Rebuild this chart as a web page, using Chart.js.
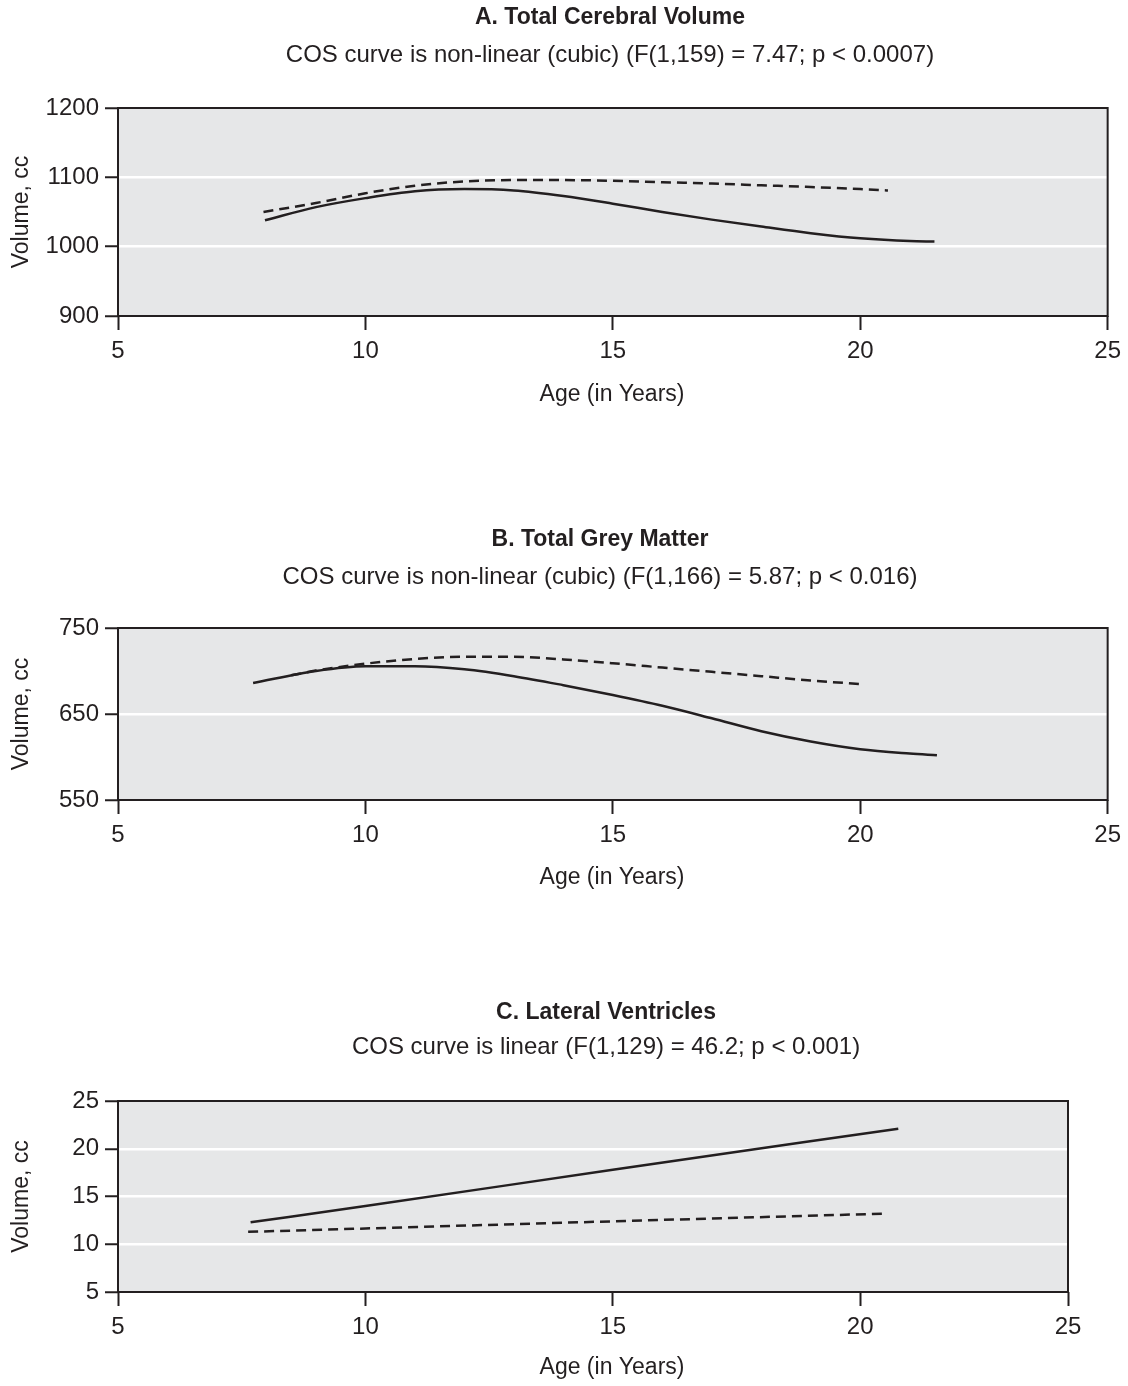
<!DOCTYPE html>
<html>
<head>
<meta charset="utf-8">
<title>COS vs controls - brain volumes</title>
<script src="https://cdn.jsdelivr.net/npm/chart.js@4.4.1/dist/chart.umd.min.js"></script>
<style>
  html, body { margin: 0; padding: 0; background: #fff; overflow: hidden; }
  canvas { position: absolute; left: 0; }
</style>
</head>
<body>
<canvas id="chartA" width="1128" height="420" style="top:0px"></canvas>
<canvas id="chartB" width="1128" height="410" style="top:500px"></canvas>
<canvas id="chartC" width="1128" height="406" style="top:980px"></canvas>

<script>
// x axis (age in years)
var xTickLabels = ['5', '10', '15', '20', '25'];
var xTickPos = [5, 10, 15, 20, 25];
// panel C: in the source figure the last interval is squeezed, "25" sits where 24.2 would be
var xTickPosC = [5, 10, 15, 20, 24.2];

// A. Total Cerebral Volume  (solid = COS, dashed = controls)
var cosAgeA = [7.97, 9, 10, 11, 12, 13, 14, 15, 16, 17, 18, 19, 20, 21, 21.5];
var cosVolA = [1038, 1057, 1070, 1080, 1083, 1081, 1073, 1062, 1050, 1039, 1029, 1019.5, 1012, 1008, 1007.5];
var ctlAgeA = [7.94, 9, 10, 11, 12, 13, 14, 15, 16, 17, 18, 19, 20, 20.56];
var ctlVolA = [1050, 1063, 1077, 1088, 1094, 1096, 1096, 1095, 1093, 1091, 1088.5, 1086, 1083, 1081];
var yTicksA = [900, 1000, 1100, 1200];

// B. Total Grey Matter
var cosAgeB = [7.73, 9, 10, 11, 12, 13, 14, 15, 16, 17, 18, 19, 20, 21, 21.55];
var cosVolB = [686, 700, 705.5, 705.5, 702, 694, 683.5, 672, 659.5, 645, 630, 618, 609, 604, 602];
var ctlAgeB = [8.5, 9, 10, 11, 12, 13, 14, 15, 16, 17, 18, 19, 20.07];
var ctlVolB = [695, 700.5, 708.5, 714, 716.5, 716.5, 713.5, 709, 704, 699, 694, 689, 684.5];
var yTicksB = [550, 650, 750];

// C. Lateral Ventricles
var cosAgeC = [7.68, 10, 15, 20.77];
var cosVolC = [12.3, 14.0, 17.8, 22.1];
var ctlAgeC = [7.63, 10, 15, 20.44];
var ctlVolC = [11.3, 11.65, 12.4, 13.2];
var yTicksC = [5, 10, 15, 20, 25];

var ink = '#231f20';
var plotBg = '#e6e7e8';
var fontFam = '"Liberation Sans", Arial, Helvetica, sans-serif';

function pts(xs, ys) {
	var out = [];
	for (var i = 0; i < xs.length; i++) {
		out.push({x: xs[i], y: ys[i]});
	}
	return out;
}

//grey plot box, frame and the titles
var panelText = {
	id: 'panelText',
	beforeDraw: function(chart) {
		var a = chart.chartArea, ctx = chart.ctx;
		ctx.save();
		ctx.fillStyle = plotBg;
		ctx.fillRect(a.left, a.top, a.right - a.left, a.bottom - a.top);
		ctx.restore();
	},
	afterDraw: function(chart, args, opts) {
		var a = chart.chartArea, ctx = chart.ctx;
		ctx.save();
		ctx.strokeStyle = ink;
		ctx.lineWidth = 2;
		ctx.strokeRect(a.left, a.top, a.right - a.left, a.bottom - a.top);

		ctx.fillStyle = ink;
		ctx.textAlign = 'center';
		ctx.textBaseline = 'middle';
		ctx.font = 'bold 23px ' + fontFam;
		ctx.fillText(opts.title, opts.cx, opts.titleY);
		ctx.font = '24px ' + fontFam;
		ctx.fillText(opts.sub, opts.cx, opts.subY);
		ctx.font = '23px ' + fontFam;
		ctx.fillText('Age (in Years)', 612, opts.xlabelY);
		ctx.restore();
	}
};

function makeChart(id, cfg) {
	var ctx = document.getElementById(id);
	return new Chart(ctx, {
		type: 'line',
		data: {
			datasets: [
				{
					label: 'COS',
					data: pts(cfg.cosAge, cfg.cosVol),
					borderColor: ink,
					borderWidth: 2.5,
					pointRadius: 0,
					fill: false,
					cubicInterpolationMode: 'monotone'
				},
				{
					label: 'Controls',
					data: pts(cfg.ctlAge, cfg.ctlVol),
					borderColor: ink,
					borderWidth: 2.5,
					borderDash: [10, 6],
					pointRadius: 0,
					fill: false,
					cubicInterpolationMode: 'monotone'
				}
			]
		},
		options: {
			responsive: false,
			animation: false,
			events: [],
			layout: {
				padding: {top: cfg.padTop, right: cfg.padRight, bottom: 0, left: 0}
			},
			plugins: {
				legend: {display: false},
				tooltip: {enabled: false},
				panelText: {
					title: cfg.title,
					sub: cfg.sub,
					cx: cfg.cx,
					titleY: cfg.titleY,
					subY: cfg.subY,
					xlabelY: cfg.xlabelY
				}
			},
			scales: {
				x: {
					type: 'linear',
					min: 5,
					max: cfg.xPos[cfg.xPos.length - 1],
					afterBuildTicks: function(scale) {
						scale.ticks = cfg.xPos.map(function(v) { return {value: v}; });
					},
					afterFit: function(scale) { scale.height = cfg.xHeight; },
					border: {display: false},
					grid: {
						drawOnChartArea: false,
						drawTicks: true,
						tickLength: 14,
						tickColor: ink,
						tickWidth: 2
					},
					ticks: {
						color: ink,
						padding: 7,
						maxRotation: 0,
						font: {family: fontFam, size: 24},
						callback: function(value, index) { return xTickLabels[index]; }
					}
				},
				y: {
					type: 'linear',
					min: cfg.yTicks[0],
					max: cfg.yTicks[cfg.yTicks.length - 1],
					afterBuildTicks: function(scale) {
						scale.ticks = cfg.yTicks.map(function(v) { return {value: v}; });
					},
					afterFit: function(scale) { scale.width = 118; },
					border: {display: false},
					grid: {
						color: function(c) {
							var v = c.tick ? c.tick.value : null;
							if (v === cfg.yTicks[0] || v === cfg.yTicks[cfg.yTicks.length - 1]) return 'rgba(0,0,0,0)';
							return '#ffffff';
						},
						lineWidth: 2.5,
						drawTicks: true,
						tickLength: 13,
						tickColor: ink,
						tickWidth: 2
					},
					ticks: {
						color: ink,
						padding: 6,
						font: {family: fontFam, size: 24},
						callback: function(value) { return String(value); }
					},
					title: {
						display: true,
						text: 'Volume, cc',
						color: ink,
						font: {family: fontFam, size: 23},
						padding: {top: 8, bottom: 0}
					}
				}
			}
		},
		plugins: [panelText]
	});
}

//A
var chartA = makeChart('chartA', {
	cosAge: cosAgeA, cosVol: cosVolA, ctlAge: ctlAgeA, ctlVol: ctlVolA,
	yTicks: yTicksA, xPos: xTickPos,
	padTop: 108, padRight: 20, xHeight: 104,
	title: 'A. Total Cerebral Volume',
	sub: 'COS curve is non-linear (cubic) (F(1,159) = 7.47; p < 0.0007)',
	cx: 610, titleY: 18, subY: 55, xlabelY: 395
});

//B
var chartB = makeChart('chartB', {
	cosAge: cosAgeB, cosVol: cosVolB, ctlAge: ctlAgeB, ctlVol: ctlVolB,
	yTicks: yTicksB, xPos: xTickPos,
	padTop: 128, padRight: 20, xHeight: 110,
	title: 'B. Total Grey Matter',
	sub: 'COS curve is non-linear (cubic) (F(1,166) = 5.87; p < 0.016)',
	cx: 600, titleY: 40, subY: 77, xlabelY: 378
});

//C
var chartC = makeChart('chartC', {
	cosAge: cosAgeC, cosVol: cosVolC, ctlAge: ctlAgeC, ctlVol: ctlVolC,
	yTicks: yTicksC, xPos: xTickPosC,
	padTop: 121, padRight: 60, xHeight: 94,
	title: 'C. Lateral Ventricles',
	sub: 'COS curve is linear (F(1,129) = 46.2; p < 0.001)',
	cx: 606, titleY: 33, subY: 67, xlabelY: 388
});
</script>
</body>
</html>
